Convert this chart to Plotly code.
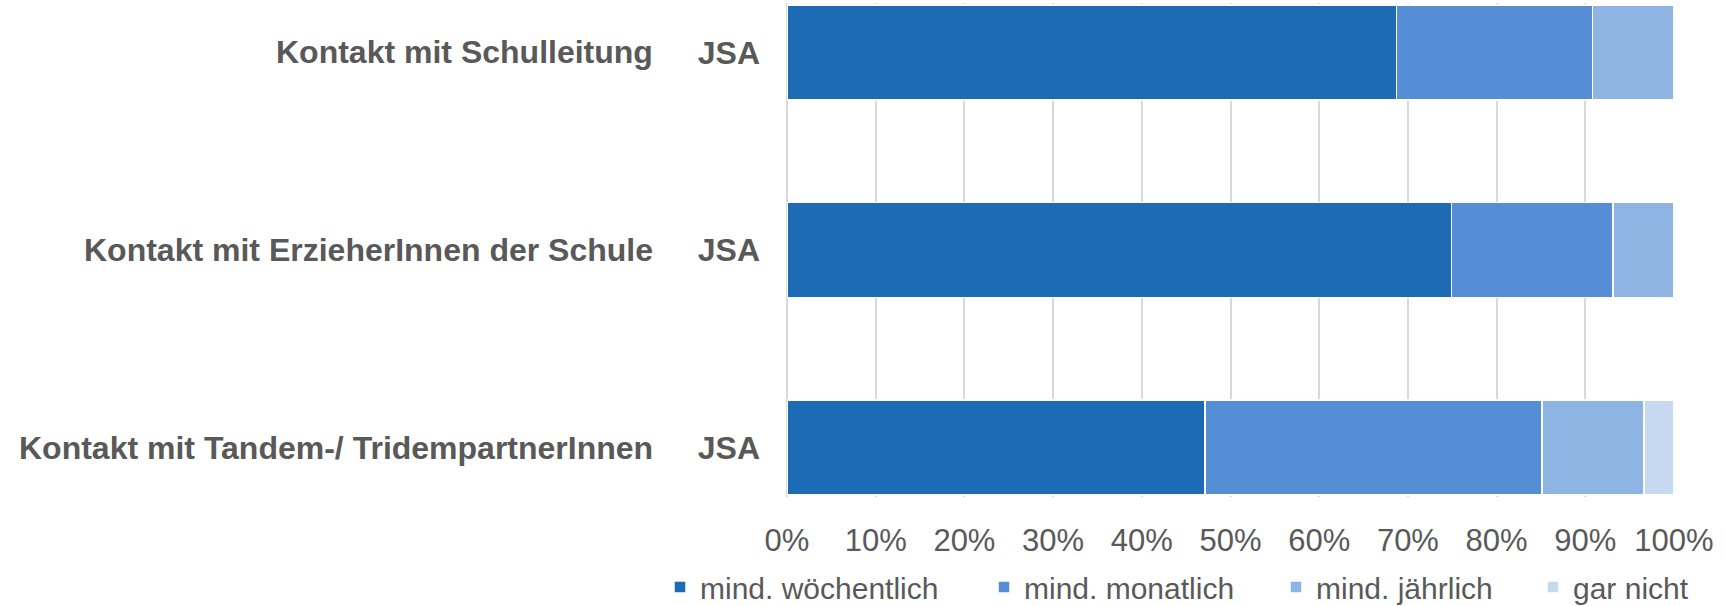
import plotly.graph_objects as go

# ---- data ----
groups = ["Kontakt mit Schulleitung", "Kontakt mit ErzieherInnen der Schule",
          "Kontakt mit Tandem-/ TridempartnerInnen"]
sublabels = ["JSA", "JSA", "JSA"]
series_names = ["mind. wöchentlich", "mind. monatlich", "mind. jährlich", "gar nicht"]
woechentlich = [68.7, 74.9, 47.1]
monatlich = [22.1, 18.2, 38.0]
jaehrlich = [9.2, 6.9, 11.5]
gar_nicht = [0.0, 0.0, 3.4]
x_ticks = [0, 10, 20, 30, 40, 50, 60, 70, 80, 90, 100]
x_ticklabels = ["0%", "10%", "20%", "30%", "40%", "50%", "60%", "70%", "80%", "90%", "100%"]

colors = ["#1C6BB4", "#558ED5", "#8EB4E3", "#C6D9F1"]
values = [woechentlich, monatlich, jaehrlich, gar_nicht]
legend_ids = ["legend", "legend2", "legend3", "legend4"]
legend_x_px = [660, 984, 1276, 1533]

W, H = 1726, 606
TXT = "#595959"
FONT = "Liberation Sans, Arial, sans-serif"

fig = go.Figure()
for name, vals, col, lg in zip(series_names, values, colors, legend_ids):
    fig.add_trace(go.Bar(
        y=groups, x=vals, name=name, orientation="h",
        marker=dict(color=col, line=dict(color="white", width=1.5)),
        legend=lg, hoverinfo="x+name",
    ))

layout_legends = {}
for lg, px in zip(legend_ids, legend_x_px):
    layout_legends[lg] = dict(
        x=px / W, xref="container", xanchor="left",
        y=1 - 587 / H, yref="container", yanchor="middle",
        orientation="h", bgcolor="rgba(0,0,0,0)", borderwidth=0,
        font=dict(family=FONT, size=30, color=TXT),
    )

fig.update_layout(
    width=W, height=H,
    margin=dict(l=787, r=52, t=3, b=106),
    paper_bgcolor="white", plot_bgcolor="white",
    barmode="stack", bargap=0.52,
    font=dict(family=FONT, color=TXT),
    showlegend=True,
    **layout_legends,
)

fig.update_xaxes(
    range=[0, 100], tickvals=x_ticks, ticktext=x_ticklabels,
    showgrid=True, gridcolor="#D9D9D9", gridwidth=1.5,
    zeroline=True, zerolinecolor="#D9D9D9", zerolinewidth=1.5,
    showline=False, ticks="",
    ticklabelstandoff=22,
    tickfont=dict(family=FONT, size=31, color=TXT),
)
fig.update_yaxes(
    type="category", categoryorder="array", categoryarray=groups,
    range=[2.25, -0.25],
    tickvals=groups, ticktext=sublabels, ticks="",
    ticklabelstandoff=26,
    tickfont=dict(family=FONT, size=32, color=TXT, weight="bold"),
    showgrid=False, zeroline=False, showline=False,
)

for g in groups:
    fig.add_annotation(
        x=(655 - 787) / (W - 787 - 52), xref="paper", xanchor="right",
        y=g, yref="y", yanchor="middle",
        text=g, showarrow=False,
        font=dict(family=FONT, size=32, color=TXT, weight="bold"),
    )

fig.write_html("out.html")
